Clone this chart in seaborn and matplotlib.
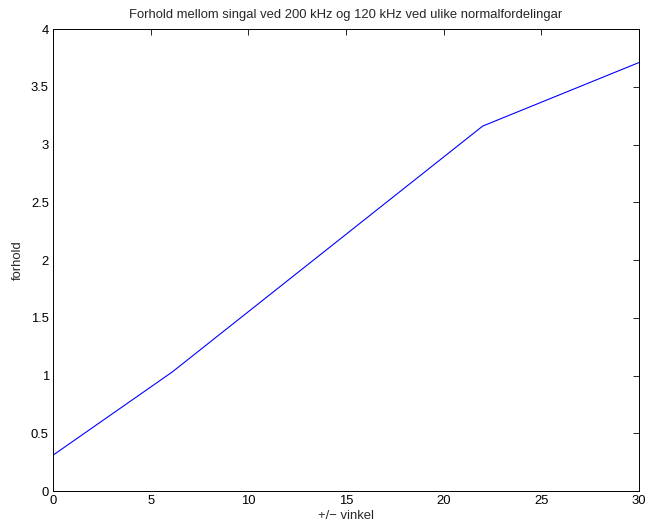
import seaborn as sns
import pandas as pd
import matplotlib.pyplot as plt

# angle vs ratio
vinkel = [0, 6.1, 22.0, 30]
forhold = [0.31, 1.03, 3.16, 3.71]

df = pd.DataFrame({'vinkel': vinkel, 'forhold': forhold})

sns.set_style('white')
plt.rcParams['font.family'] = ['Liberation Sans', 'DejaVu Sans']

fig = plt.figure(figsize=(6.47, 5.29), dpi=100)
ax = fig.add_axes([0.0819, 0.0718, 0.9057, 0.8733])

sns.lineplot(data=df, x='vinkel', y='forhold', color='blue', linewidth=0.8, ax=ax)

ax.set_xlim(0, 30)
ax.set_ylim(0, 4)
ax.set_xticks([0, 5, 10, 15, 20, 25, 30])
ax.set_yticks([0, 0.5, 1, 1.5, 2, 2.5, 3, 3.5, 4])
ax.set_yticklabels(['0', '0.5', '1', '1.5', '2', '2.5', '3', '3.5', '4'])
ax.tick_params(direction='in', length=4.5, width=0.6, labelsize=9.4, pad=3,
               top=True, right=True, colors='black')
for s in ax.spines.values():
    s.set_color('black')
    s.set_linewidth(0.7)

ax.set_xlabel('+/\u2212 vinkel', fontsize=9.4, labelpad=2)
ax.set_ylabel('forhold', fontsize=9.4, labelpad=5)
ax.set_title('Forhold mellom singal ved 200 kHz og 120 kHz ved ulike normalfordelingar', fontsize=9.4, pad=8)

fig.savefig('out.png', dpi=100)
